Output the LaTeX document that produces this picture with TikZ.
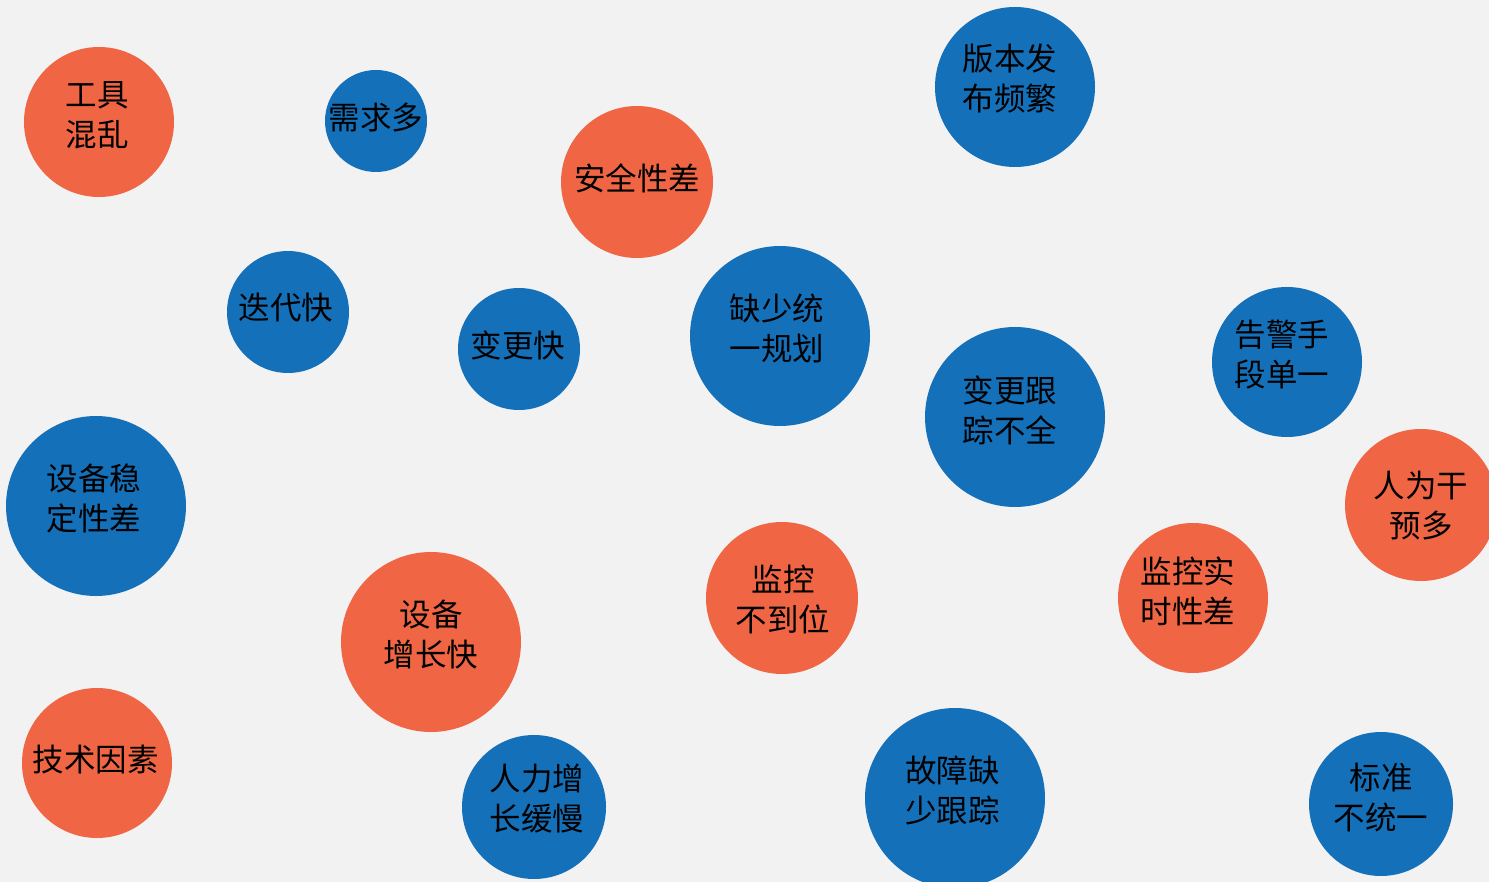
\documentclass[tikz,border=0pt]{standalone}
\usepackage{fontspec}
\newfontfamily\cjk{Noto Sans CJK SC}
\definecolor{bubbleorange}{RGB}{240,102,68}
\definecolor{bubbleblue}{RGB}{21,112,186}
\definecolor{bggray}{RGB}{242,242,242}

\begin{document}
\begin{tikzpicture}[
  x=1pt, y=-1pt,
  bubble/.style={circle, inner sep=0pt},
  hot/.style={bubble, fill=bubbleorange},
  cool/.style={bubble, fill=bubbleblue},
  txt/.style={align=center, text=black, inner sep=0pt,
    font=\cjk\fontsize{31.5}{40}\selectfont}
]
  \fill[bggray] (0,0) rectangle (1489,882);
  \useasboundingbox (0,0) rectangle (1489,882);

  % top row
  \node[hot, minimum size=150pt, label={[txt, xshift=-2pt, yshift=7pt]center:{工具\\混乱}}] (tools) at (99,122) {};
  \node[cool, minimum size=102pt, label={[txt, yshift=3pt]center:{需求多}}] (demand) at (376,121) {};
  \node[hot, minimum size=152pt, label={[txt, yshift=4pt]center:{安全性差}}] (security) at (637,182) {};
  \node[cool, minimum size=160pt, label={[txt, xshift=-5pt, yshift=8pt]center:{版本发\\布频繁}}] (release) at (1015,87) {};

  % middle rows
  \node[cool, minimum size=122pt, label={[txt, xshift=-2pt, yshift=4pt]center:{迭代快}}] (iterate) at (288,312) {};
  \node[cool, minimum size=122pt, label={[txt, xshift=-1pt, yshift=4pt]center:{变更快}}] (change) at (519,349) {};
  \node[cool, minimum size=180pt, label={[txt, xshift=-3pt, yshift=7.5pt]center:{缺少统\\一规划}}] (plan) at (780,336) {};
  \node[cool, minimum size=180pt, label={[txt, xshift=-5pt, yshift=7pt]center:{变更跟\\踪不全}}] (tracking) at (1015,417) {};
  \node[cool, minimum size=150pt, label={[txt, xshift=-5pt, yshift=7pt]center:{告警手\\段单一}}] (alarm) at (1287,362) {};
  \node[hot, minimum size=152pt, label={[txt, yshift=-1pt]center:{人为干\\预多}}] (manual) at (1421,505) {};
  \node[cool, minimum size=180pt, label={[txt, xshift=-2pt, yshift=8pt]center:{设备稳\\定性差}}] (stability) at (96,506) {};
  \node[hot, minimum size=180pt, label={[txt, yshift=7pt]center:{设备\\增长快}}] (growth) at (431,642) {};
  \node[hot, minimum size=152pt, label={[txt, xshift=1pt, yshift=-1pt]center:{监控\\不到位}}] (monitor) at (782,598) {};
  \node[hot, minimum size=150pt, label={[txt, xshift=-5pt, yshift=6.5pt]center:{监控实\\时性差}}] (realtime) at (1193,598) {};

  % bottom row
  \node[hot, minimum size=150pt, label={[txt, xshift=-1.5pt, yshift=3pt]center:{技术因素}}] (tech) at (97,763) {};
  \node[cool, minimum size=144pt, label={[txt, xshift=3pt, yshift=8pt]center:{人力增\\长缓慢}}] (staff) at (534,807) {};
  \node[cool, minimum size=180pt, label={[txt, xshift=-2.5pt, yshift=8pt]center:{故障缺\\少跟踪}}] (fault) at (955,798) {};
  \node[cool, minimum size=144pt, label={[txt, yshift=7pt]center:{标准\\不统一}}] (standard) at (1381,804) {};
\end{tikzpicture}
\end{document}
